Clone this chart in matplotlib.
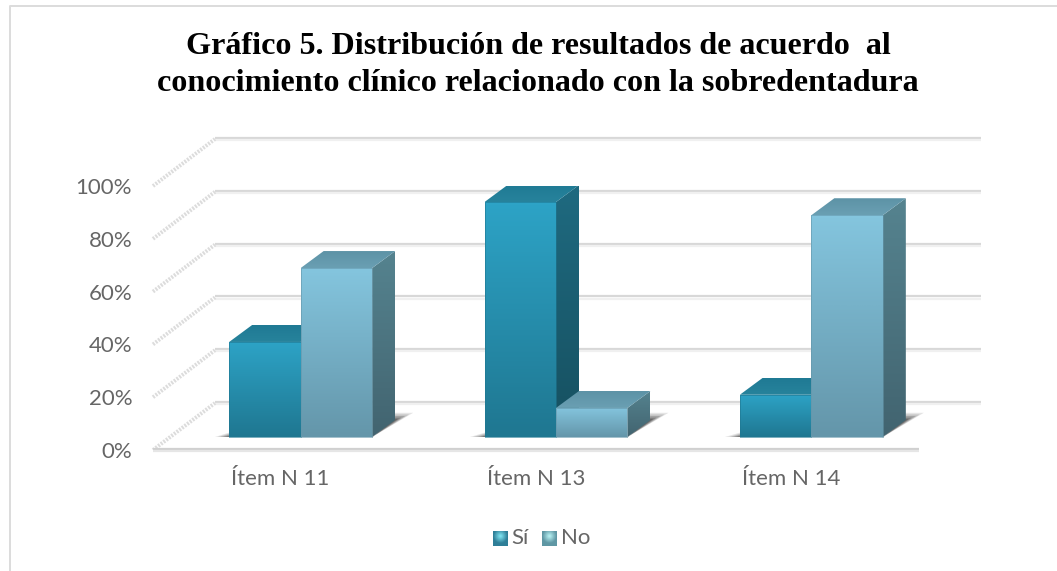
#!/usr/bin/env python3
"""Grafico 5: barras con aspecto 3D, Si / No por item."""

import numpy as np
import matplotlib
matplotlib.use("Agg")
import matplotlib.pyplot as plt
from matplotlib.colors import LinearSegmentedColormap
from matplotlib.patches import Polygon

# Datos
categorias = ['Ítem N 11', 'Ítem N 13', 'Ítem N 14']
valores_si = [36, 89, 16]
valores_no = [64, 11, 84]
ticks_y = [0, 20, 40, 60, 80, 100]
titulo = ('Gráfico 5. Distribución de resultados de acuerdo  al\n'
          'conocimiento clínico relacionado con la sobredentadura')

W, H = 1057, 571
# Plano frontal del grafico en pixeles
X0, X1, Y0, Y100 = 153, 919, 450, 186
# Profundidad de las paredes y de las barras (pixeles)
PARED_DX, PARED_DY = 62, 47
BASE_DX, BASE_DY = 20, 13
BARRA_DX, BARRA_DY = 23, 17
ANCHO = 0.28

COLORES = {
    'si': dict(front=['#2da3c6', '#1f7791'], side=['#1f6a80', '#165060'], top=['#1f7a94', '#27839c']),
    'no': dict(front=['#84c5de', '#6496aa'], side=['#55838f', '#426470'], top=['#5d93a6', '#6a9fb3']),
}

plt.rcParams['font.family'] = ['Lato', 'DejaVu Sans']

fig = plt.figure(figsize=(W / 100, H / 100), dpi=100, facecolor='white')
ax = fig.add_axes([X0 / W, 1 - Y0 / H, (X1 - X0) / W, (Y0 - Y100) / H])
ax.set_facecolor('none')

xlim = (-0.5, len(categorias) - 0.5)
ylim = (0, 100)
sx = (xlim[1] - xlim[0]) / (X1 - X0)  # datos por pixel
sy = (ylim[1] - ylim[0]) / (Y0 - Y100)


def gradiente(verts, colores, zorder):
    """Relleno con degradado vertical recortado al poligono."""
    verts = np.array(verts)
    cmap = LinearSegmentedColormap.from_list('g', colores)
    ext = [verts[:, 0].min(), verts[:, 0].max(), verts[:, 1].min(), verts[:, 1].max()]
    im = ax.imshow(np.linspace(0, 1, 64).reshape(-1, 1), cmap=cmap, extent=ext, origin='upper',
                   aspect='auto', zorder=zorder, interpolation='bilinear')
    clip = Polygon(verts, closed=True, transform=ax.transData, fc='none', ec='none')
    ax.add_patch(clip)
    im.set_clip_path(clip)


def sombra(x_izq, x_der, zorder):
    """Sombra difusa en el suelo: detras de la cara lateral y a la izquierda de la base."""
    bx, by = BASE_DX * sx, BASE_DY * sy
    dx, dy = BARRA_DX * sx, BARRA_DY * sy
    for crece, alfa in zip([18, 14, 10, 6, 3], [0.12, 0.16, 0.2, 0.24, 0.28]):
        verts = [(x_der + bx, by), (x_der + bx + dx + crece * sx, by + dy + crece * 0.4 * sy),
                 (x_der + bx + dx, by + dy + crece * 0.4 * sy), (x_der + bx, by - 0.5 * sy)]
        ax.add_patch(Polygon(verts, closed=True, fc='#222222', ec='none', alpha=alfa, zorder=zorder, clip_on=False))
        verts = [(x_izq + bx - crece * 0.8 * sx, by - 0.2 * sy), (x_izq + bx + 30 * sx, by - 0.2 * sy),
                 (x_izq + bx + 30 * sx, by + crece * 0.28 * sy), (x_izq + bx + 2 * sx, by + crece * 0.28 * sy)]
        ax.add_patch(Polygon(verts, closed=True, fc='#222222', ec='none', alpha=alfa, zorder=zorder, clip_on=False))


def barra3d(x_izq, x_der, valor, tema, zorder):
    col = COLORES[tema]
    bx, by = BASE_DX * sx, BASE_DY * sy
    dx, dy = BARRA_DX * sx, BARRA_DY * sy
    xa, xb = x_izq + bx, x_der + bx
    y0, y1 = by, by + valor
    # Cara lateral, cara superior y frente
    gradiente([(xb, y0), (xb + dx, y0 + dy), (xb + dx, y1 + dy), (xb, y1)], col['side'], zorder)
    gradiente([(xa, y1), (xb, y1), (xb + dx, y1 + dy), (xa + dx, y1 + dy)], col['top'], zorder)
    gradiente([(xa, y0), (xb, y0), (xb, y1), (xa, y1)], col['front'], zorder + 0.1)
    ax.plot([xa, xb, xb, xa, xa], [y0, y0, y1, y1, y0], color=col['front'][1], lw=0.7, alpha=0.6,
            zorder=zorder + 0.2, clip_on=False)


# Rejilla del fondo, pared izquierda y suelo
wx, wy = PARED_DX * sx, PARED_DY * sy
for t in ticks_y:
    ax.plot([xlim[0] + wx, xlim[1] + wx], [t + wy + 0.35, t + wy + 0.35], color='#d8d8d8', lw=1.6,
            clip_on=False, zorder=1, solid_capstyle='butt')
    ax.plot([xlim[0] + wx, xlim[1] + wx], [t + wy - 0.45, t + wy - 0.45], color='#f0f0f0', lw=1.6,
            clip_on=False, zorder=1, solid_capstyle='butt')
    ax.plot([xlim[0], xlim[0] + wx], [t, t + wy], color='#dcdcdc', lw=2.8, clip_on=False, zorder=1,
            dashes=(0.5, 0.35))
ax.plot(xlim, [0.25, 0.25], color='#d0d0d0', lw=1.6, clip_on=False, zorder=2, solid_capstyle='butt')
ax.plot(xlim, [-0.55, -0.55], color='#e6e6e6', lw=1.6, clip_on=False, zorder=2, solid_capstyle='butt')

# Barras: la serie No siempre se dibuja sobre el lateral de la serie Si
for i, (si, no) in enumerate(zip(valores_si, valores_no)):
    sombra(i - ANCHO, i + ANCHO, 3)
    barra3d(i - ANCHO, i, si, 'si', 4)
    barra3d(i, i + ANCHO, no, 'no', 5)

ax.set_xlim(xlim)
ax.set_ylim(ylim)
ax.set_xticks(range(len(categorias)))
ax.set_xticklabels(categorias)
ax.set_yticks(ticks_y)
ax.set_yticklabels([f'{t}%' for t in ticks_y])
ax.tick_params(axis='both', length=0, labelsize=16, labelcolor='#666666')
ax.tick_params(axis='x', pad=14)
ax.tick_params(axis='y', pad=15)
for s in ax.spines.values():
    s.set_visible(False)

# Marco del grafico (abierto abajo y a la derecha)
fig.add_artist(plt.Line2D([9.5 / W, 9.5 / W, 1], [0, 1 - 5.5 / H, 1 - 5.5 / H], color='#dcdcdc', lw=1.4))

fig.text(538 / W, 1 - 65 / H, titulo, ha='center', va='center', family='Liberation Serif',
         fontweight='bold', fontsize=23.1, color='black', linespacing=1.38)

# Leyenda
luz = np.linspace(-1, 1, 16)
xx, yy = np.meshgrid(luz, luz)
brillo = np.clip(1 - np.hypot(xx, yy + 0.35), 0, 1)
for x_m, x_t, etiqueta, base, claro in [(493, 511, 'Sí', '#2f7f98', '#7fe3f0'), (542, 561, 'No', '#5f97a4', '#b6f0f2')]:
    a_m = fig.add_axes([x_m / W, 1 - 546 / H, 14.5 / W, 15 / H])
    cm = LinearSegmentedColormap.from_list('l', [base, claro])
    a_m.imshow(brillo, cmap=cm, aspect='auto', interpolation='bilinear')
    a_m.axis('off')
    fig.text(x_t / W, 1 - 538 / H, etiqueta, ha='left', va='center', fontsize=16, color='#666666')

fig.savefig('out.png', dpi=100, facecolor='white')
